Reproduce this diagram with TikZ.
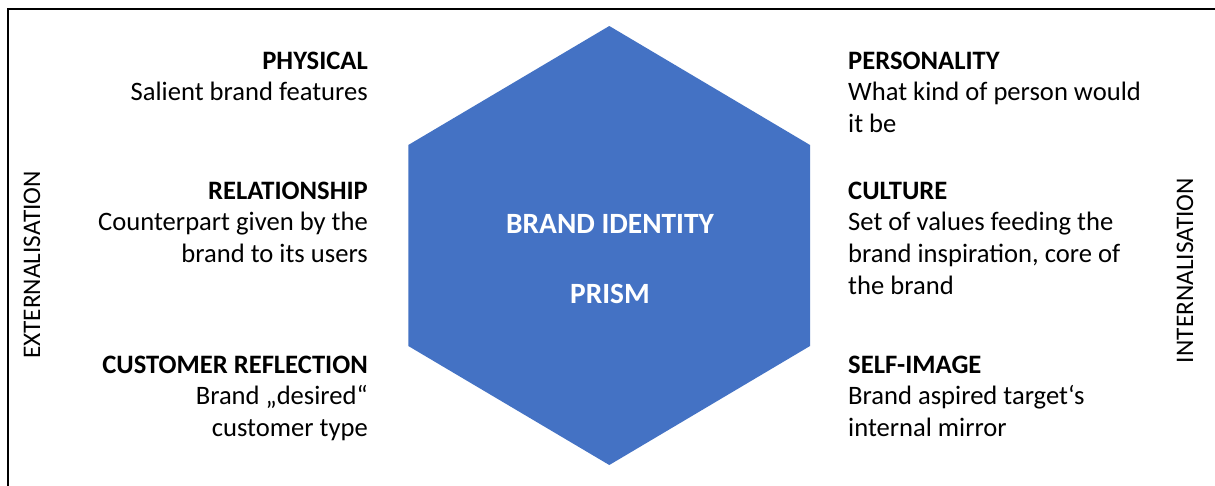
\documentclass[tikz,border=0pt]{standalone}
\usepackage{fontspec}
\setmainfont{Carlito}
\begin{document}
\begin{tikzpicture}[x=1pt,y=-1pt,
  txt/.style={inner sep=0pt,font=\fontsize{26.6}{32}\selectfont},
  lefttxt/.style={txt,anchor=base east},
  righttxt/.style={txt,anchor=base west},
  ttl/.style={font=\fontsize{26.6}{32}\selectfont\bfseries},
  hexlabel/.style={inner sep=0pt,anchor=base,text=white,font=\fontsize{29.4}{34}\selectfont\bfseries},
  sidelabel/.style={inner sep=0pt,anchor=base,rotate=90,font=\fontsize{25.3}{30}\selectfont},
  frame/.style={line width=2.2pt,black}]
\definecolor{prismblue}{HTML}{4472C4}
\useasboundingbox (0,0) rectangle (1215,485);
\fill[white] (0,0) rectangle (1215,485);

% outer frame (only left and top edges fall inside the page)
\coordinate (fbl) at (8.3,500);
\coordinate (ftl) at (8.3,9);
\coordinate (ftr) at (1230,9);
\draw[frame] (fbl) -- (ftl) -- (ftr);

% prism hexagon
\coordinate (h1) at (609.3,26);
\coordinate (h2) at (810,145);
\coordinate (h3) at (810,346);
\coordinate (h4) at (609.3,465);
\coordinate (h5) at (408.3,346);
\coordinate (h6) at (408.3,145);
\fill[prismblue] (h1) -- (h2) -- (h3) -- (h4) -- (h5) -- (h6) -- cycle;

\node[hexlabel] (brand) at (610,233) {BRAND IDENTITY};
\node[hexlabel] (prism) at (610,303) {PRISM};

% left column
\node[lefttxt,ttl] (phys) at (368,69) {PHYSICAL};
\node[lefttxt] (phys1) at (368,100) {Salient brand features};

\node[lefttxt,ttl] (rel) at (368,199) {RELATIONSHIP};
\node[lefttxt] (rel1) at (368,230) {Counterpart given by the};
\node[lefttxt] (rel2) at (368,262) {brand to its users};

\node[lefttxt,ttl] (cust) at (368,373) {CUSTOMER REFLECTION};
\node[lefttxt] (cust1) at (368,404) {Brand „desired“};
\node[lefttxt] (cust2) at (368,436) {customer type};

% right column
\node[righttxt,ttl] (pers) at (848,69) {PERSONALITY};
\node[righttxt] (pers1) at (848,100) {What kind of person would};
\node[righttxt] (pers2) at (848,132) {it be};

\node[righttxt,ttl] (cult) at (848,199) {CULTURE};
\node[righttxt] (cult1) at (848,230) {Set of values feeding the};
\node[righttxt] (cult2) at (848,262) {brand inspiration, core of};
\node[righttxt] (cult3) at (848,294) {the brand};

\node[righttxt,ttl] (self) at (848,373) {SELF-IMAGE};
\node[righttxt] (self1) at (848,404) {Brand aspired target‘s};
\node[righttxt] (self2) at (848,436) {internal mirror};

% side labels
\node[sidelabel] (ext) at (40,265) {EXTERNALISATION};
\node[sidelabel] (int) at (1193,270.5) {INTERNALISATION};
\end{tikzpicture}
\end{document}
